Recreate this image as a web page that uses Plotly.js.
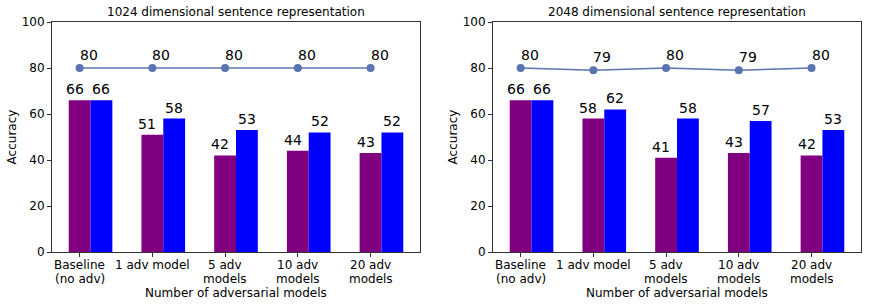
<!DOCTYPE html>
<html>
<head>
<meta charset="utf-8">
<script src="https://cdn.plot.ly/plotly-3.0.1.min.js"></script>
<style>html,body{margin:0;padding:0;background:#fff;}#chart{width:872px;height:307px;}</style>
</head>
<body>
<div id="chart"></div>
<script>
const categories = ['Baseline<br>(no adv)', '1 adv model', '5 adv<br>models', '10 adv<br>models', '20 adv<br>models'];
const titles = ['1024 dimensional sentence representation', '2048 dimensional sentence representation'];
const purple1024 = [66, 51, 42, 44, 43];
const blue1024 = [66, 58, 53, 52, 52];
const line1024 = [80, 80, 80, 80, 80];
const purple2048 = [66, 58, 41, 43, 42];
const blue2048 = [66, 62, 58, 57, 53];
const line2048 = [80, 79, 80, 79, 80];
const yTicks = [0, 20, 40, 60, 80, 100];
const xTitle = 'Number of adversarial models';
const yTitle = 'Accuracy';

const FONT = 'DejaVu Sans, sans-serif';
const BW = 0.3;
const idx = categories.map((_, i) => i);
const panels = [
  {p: purple1024, b: blue1024, l: line1024, xa: 'x', ya: 'y', dom: [52/872, 420/872]},
  {p: purple2048, b: blue2048, l: line2048, xa: 'x2', ya: 'y2', dom: [493/872, 861/872]}
];
const traces = [];
const annotations = [];
const layout = {
  width: 872, height: 307,
  margin: {l: 0, r: 0, t: 0, b: 0},
  paper_bgcolor: '#fff', plot_bgcolor: '#fff',
  showlegend: false,
  barmode: 'overlay',
  font: {family: FONT, size: 12, color: '#000'}
};
const yDom = [1 - 252/307, 1 - 22/307];
const txt = (size) => ({family: FONT, size: size, color: '#000'});
panels.forEach((pn, k) => {
  traces.push({type: 'bar', x: idx, y: pn.p, width: BW, offset: -BW/2, marker: {color: '#800080', line: {width: 0}}, xaxis: pn.xa, yaxis: pn.ya, hoverinfo: 'skip'});
  traces.push({type: 'bar', x: idx, y: pn.b, width: BW, offset: BW/2, marker: {color: '#0000ff', line: {width: 0}}, xaxis: pn.xa, yaxis: pn.ya, hoverinfo: 'skip'});
  traces.push({type: 'scatter', mode: 'lines+markers', x: idx, y: pn.l, line: {color: '#5a74b0', width: 1.6}, marker: {color: '#5a74b0', size: 8}, xaxis: pn.xa, yaxis: pn.ya, cliponaxis: false, hoverinfo: 'skip'});
  const xk = k === 0 ? 'xaxis' : 'xaxis2';
  const yk = k === 0 ? 'yaxis' : 'yaxis2';
  layout[xk] = {
    domain: pn.dom, anchor: pn.ya, range: [-0.38, 4.68],
    tickvals: idx, showticklabels: false, ticks: 'outside', ticklen: 4, tickcolor: '#333',
    showline: true, linecolor: '#333', linewidth: 1, mirror: true, showgrid: false, zeroline: false,
    automargin: false
  };
  layout[yk] = {
    domain: yDom, anchor: pn.xa, range: [0, 100],
    tickvals: yTicks, ticks: 'outside', ticklen: 4, tickcolor: '#333',
    showline: true, linecolor: '#333', linewidth: 1, mirror: true, showgrid: false, zeroline: false,
    tickfont: txt(12), automargin: false,
    title: {text: yTitle, font: txt(12), standoff: 2}
  };
  const xr = k === 0 ? 'x' : 'x2';
  const yr = k === 0 ? 'y' : 'y2';
  idx.forEach(i => {
    annotations.push({xref: xr, yref: yr, x: i, y: pn.p[i], text: String(pn.p[i]), showarrow: false, xanchor: 'center', yanchor: 'bottom', xshift: -5, yshift: 1, font: txt(14)});
    annotations.push({xref: xr, yref: yr, x: i + BW, y: pn.b[i], text: String(pn.b[i]), showarrow: false, xanchor: 'center', yanchor: 'bottom', yshift: 1, font: txt(14)});
    annotations.push({xref: xr, yref: yr, x: i, y: pn.l[i], text: String(pn.l[i]), showarrow: false, xanchor: 'left', yanchor: 'bottom', xshift: -2, yshift: 3, font: txt(14)});
    categories[i].split('<br>').forEach((ln, j) => {
      annotations.push({xref: xr, yref: 'paper', x: i, y: 1 - (265 + 13.5 * j)/307, text: ln, showarrow: false, xanchor: 'center', yanchor: 'middle', font: txt(12)});
    });
  });
  const cx = (pn.dom[0] + pn.dom[1]) / 2;
  annotations.push({xref: 'paper', yref: 'paper', x: cx, y: 1 - 12/307, text: titles[k], showarrow: false, xanchor: 'center', yanchor: 'middle', font: txt(12)});
  annotations.push({xref: 'paper', yref: 'paper', x: cx, y: 1 - 293/307, text: xTitle, showarrow: false, xanchor: 'center', yanchor: 'middle', font: txt(12)});
});
layout.annotations = annotations;
Plotly.newPlot('chart', traces, layout, {staticPlot: true, displayModeBar: false});
</script>
</body>
</html>
